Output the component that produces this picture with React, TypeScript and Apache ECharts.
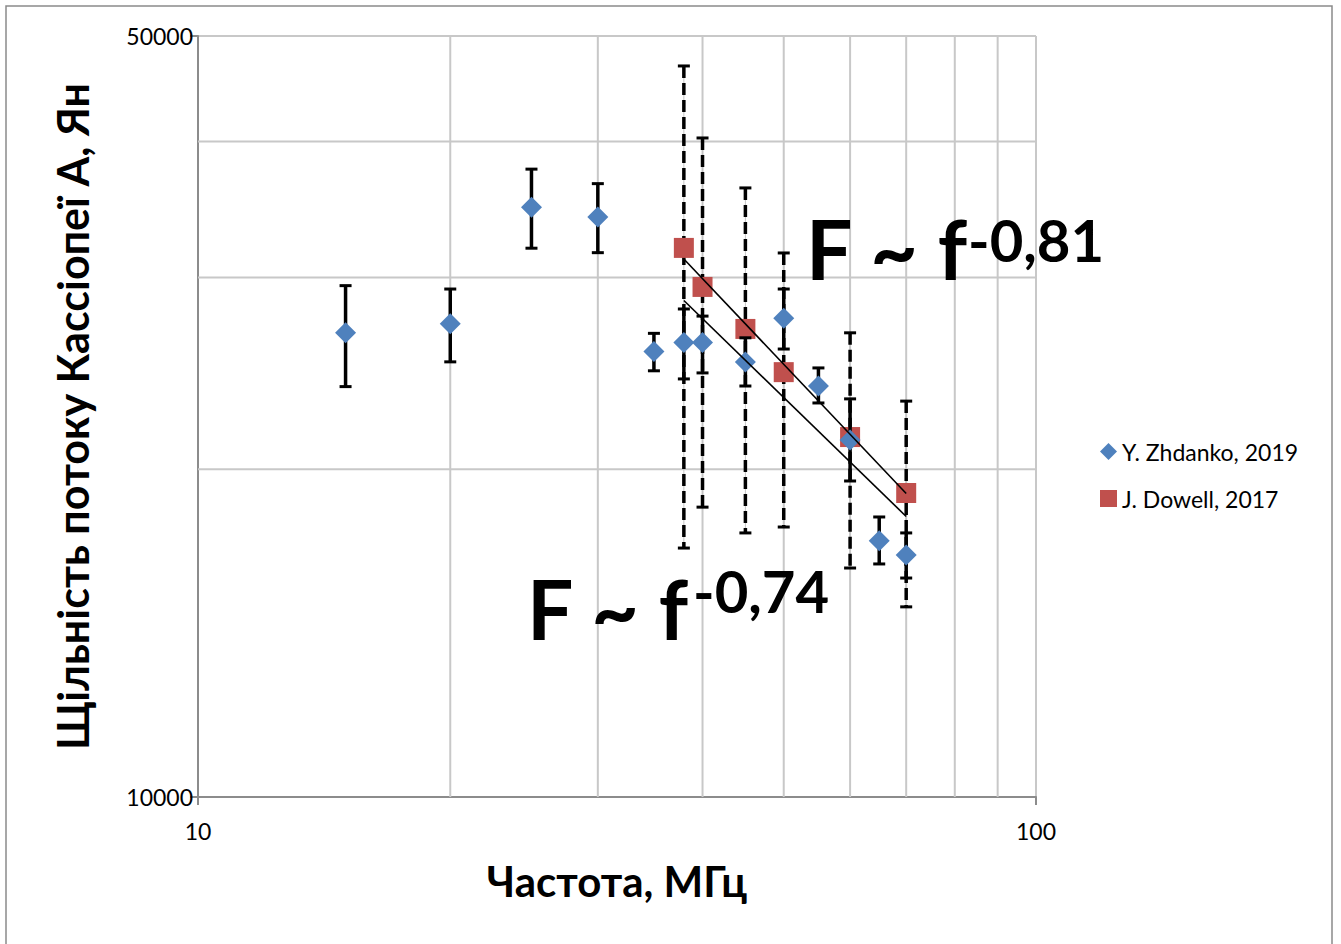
import React, { useEffect, useRef } from "react";
import * as echarts from "echarts";

// ---- Data ----
const zhdName = "Y. Zhdanko, 2019";
const zhdFreq = [15, 20, 25, 30, 35, 38, 40, 45, 50, 55, 60, 65, 70];
const zhdFlux = [26690, 27200, 34810, 34100, 25650, 26150, 26150, 25090, 27520, 23850, 21280, 17190, 16680];
const zhdLow = [23820, 25100, 31920, 31620, 24630, 24210, 24520, 23850, 25790, 23010, 19510, 16370, 15890];
const zhdHigh = [29490, 29280, 37730, 36590, 26660, 28070, 27650, 26410, 29280, 24780, 23210, 18080, 17480];

const dowName = "J. Dowell, 2017";
const dowFreq = [38, 40, 45, 50, 60, 70];
const dowFlux = [31940, 29410, 26910, 24560, 21410, 19020];
const dowLow = [16930, 18460, 17480, 17700, 16230, 14950];
const dowHigh = [46930, 40300, 36260, 31600, 26690, 23100];

const fitFreq = [38, 70];
const fitSteep = [31200, 19000]; // F ~ f^-0,81
const fitShallow = [28580, 18100]; // F ~ f^-0,74

const xGrid = [20, 30, 40, 50, 60, 70, 80, 90];
const yGrid = [20000, 30000, 40000];
const xRange = [10, 100];
const yRange = [10000, 50000];

const xTitle = "Частота, МГц";
const yTitle = "Щільність потоку Кассіопеї А, Ян";
const note1 = ["F ~ f", "-0,81"];
const note2 = ["F ~ f", "-0,74"];

const FONT = "Lato";

function errRenderer(dashed: boolean) {
  return (params: any, api: any) => {
    const x = api.value(0);
    const lo = api.value(1);
    const hi = api.value(2);
    const pHi = api.coord([x, hi]);
    const pLo = api.coord([x, lo]);
    const cap = 6;
    const children: any[] = [];
    if (dashed) {
      children.push({
        type: "line",
        shape: { x1: pHi[0], y1: pHi[1], x2: pLo[0], y2: pLo[1] },
        style: { stroke: "#c4c4c4", lineWidth: 1 },
      });
    }
    children.push({
      type: "line",
      shape: { x1: pHi[0], y1: pHi[1], x2: pLo[0], y2: pLo[1] },
      style: { stroke: "#000", lineWidth: 3.5, lineDash: dashed ? [12, 5] : null },
    });
    children.push({
      type: "line",
      shape: { x1: pHi[0] - cap, y1: pHi[1], x2: pHi[0] + cap, y2: pHi[1] },
      style: { stroke: "#000", lineWidth: 3 },
    });
    children.push({
      type: "line",
      shape: { x1: pLo[0] - cap, y1: pLo[1], x2: pLo[0] + cap, y2: pLo[1] },
      style: { stroke: "#000", lineWidth: 3 },
    });
    return { type: "group", children };
  };
}

export default function App() {
  const ref = useRef<HTMLDivElement>(null);

  useEffect(() => {
    if (!ref.current) return;
    const chart = echarts.init(ref.current, null, { renderer: "svg" });

    const gridSeries: any[] = [];
    xGrid.forEach((v) =>
      gridSeries.push({
        type: "line",
        data: [
          [v, yRange[0]],
          [v, yRange[1]],
        ],
        symbol: "none",
        silent: true,
        lineStyle: { color: "#c8c8c8", width: 2 },
        z: 0,
      })
    );
    yGrid.forEach((v) =>
      gridSeries.push({
        type: "line",
        data: [
          [xRange[0], v],
          [xRange[1], v],
        ],
        symbol: "none",
        silent: true,
        lineStyle: { color: "#c8c8c8", width: 2 },
        z: 0,
      })
    );

    const noteStyle = (t: string, size: number) => ({
      text: t,
      fontFamily: FONT,
      fontWeight: "bold",
      fontSize: size,
      fill: "#000",
      align: "left",
      verticalAlign: "top",
    });

    const option: any = {
      animation: false,
      backgroundColor: "#fff",
      grid: { left: 198, top: 36, right: 305, bottom: 147 },
      xAxis: {
        type: "log",
        logBase: 10,
        min: xRange[0],
        max: xRange[1],
        name: xTitle,
        nameLocation: "middle",
        nameGap: 63,
        nameTextStyle: { fontFamily: FONT, fontWeight: "bold", fontSize: 42, color: "#000" },
        axisLine: { show: true, lineStyle: { color: "#8c8c8c", width: 2 } },
        axisTick: { show: true, length: 8, lineStyle: { color: "#8c8c8c", width: 2 } },
        axisLabel: { fontFamily: FONT, fontSize: 23, color: "#000", margin: 22 },
        splitLine: { show: true, lineStyle: { color: "#c8c8c8", width: 2 } },
        minorTick: { show: false },
      },
      yAxis: {
        type: "log",
        logBase: 10,
        min: yRange[0],
        max: yRange[1],
        name: yTitle,
        nameLocation: "middle",
        nameGap: 104,
        nameTextStyle: { fontFamily: FONT, fontWeight: "bold", fontSize: 43, color: "#000" },
        axisLine: { show: true, lineStyle: { color: "#8c8c8c", width: 2 } },
        axisTick: { show: true, length: 8, lineStyle: { color: "#8c8c8c", width: 2 } },
        axisLabel: {
          fontFamily: FONT,
          fontSize: 23,
          color: "#000",
          margin: 5,
          formatter: (v: number) => String(Math.round(v)),
        },
        splitLine: { show: true, lineStyle: { color: "#c8c8c8", width: 2 } },
      },
      legend: {
        orient: "vertical",
        left: 1095,
        top: 435,
        itemWidth: 17,
        itemHeight: 17,
        itemGap: 24,
        data: [zhdName, dowName],
        textStyle: { fontFamily: FONT, fontSize: 23, color: "#000" },
      },
      graphic: [
        { type: "rect", shape: { x: 6, y: 6, width: 1326, height: 960 }, style: { fill: "none", stroke: "#8a8a8a", lineWidth: 1.5 }, silent: true, z: -1 },
        { type: "text", x: 806, y: 207, style: noteStyle(note1[0], 82), z: 100 },
        { type: "text", x: 968, y: 210, style: noteStyle(note1[1], 58), z: 100 },
        { type: "text", x: 527, y: 567, style: noteStyle(note2[0], 82), z: 100 },
        { type: "text", x: 693, y: 561, style: noteStyle(note2[1], 58), z: 100 },
      ],
      series: [
        ...gridSeries,
        {
          type: "custom",
          name: dowName + " err",
          renderItem: errRenderer(true),
          data: dowFreq.map((f, i) => [f, dowLow[i], dowHigh[i]]),
          encode: { x: 0, y: [1, 2] },
          silent: true,
          z: 2,
        },
        {
          type: "scatter",
          name: dowName,
          symbol: "rect",
          symbolSize: 20,
          itemStyle: { color: "#C0504D", opacity: 1 },
          data: dowFreq.map((f, i) => [f, dowFlux[i]]),
          z: 3,
        },
        {
          type: "custom",
          name: zhdName + " err",
          renderItem: errRenderer(false),
          data: zhdFreq.map((f, i) => [f, zhdLow[i], zhdHigh[i]]),
          encode: { x: 0, y: [1, 2] },
          silent: true,
          z: 4,
        },
        {
          type: "scatter",
          name: zhdName,
          symbol: "diamond",
          symbolSize: 21,
          itemStyle: { color: "#4F81BD", opacity: 1 },
          data: zhdFreq.map((f, i) => [f, zhdFlux[i]]),
          z: 5,
        },
        {
          type: "line",
          name: "fit -0,81",
          data: fitFreq.map((f, i) => [f, fitSteep[i]]),
          symbol: "none",
          lineStyle: { color: "#000", width: 1.6 },
          silent: true,
          z: 6,
        },
        {
          type: "line",
          name: "fit -0,74",
          data: fitFreq.map((f, i) => [f, fitShallow[i]]),
          symbol: "none",
          lineStyle: { color: "#000", width: 1.6 },
          silent: true,
          z: 6,
        },
      ],
    };

    chart.setOption(option);
    return () => chart.dispose();
  }, []);

  return (
    <div
      ref={ref}
      style={{ position: "fixed", left: 0, top: 0, width: 1341, height: 944, background: "#fff" }}
    />
  );
}
